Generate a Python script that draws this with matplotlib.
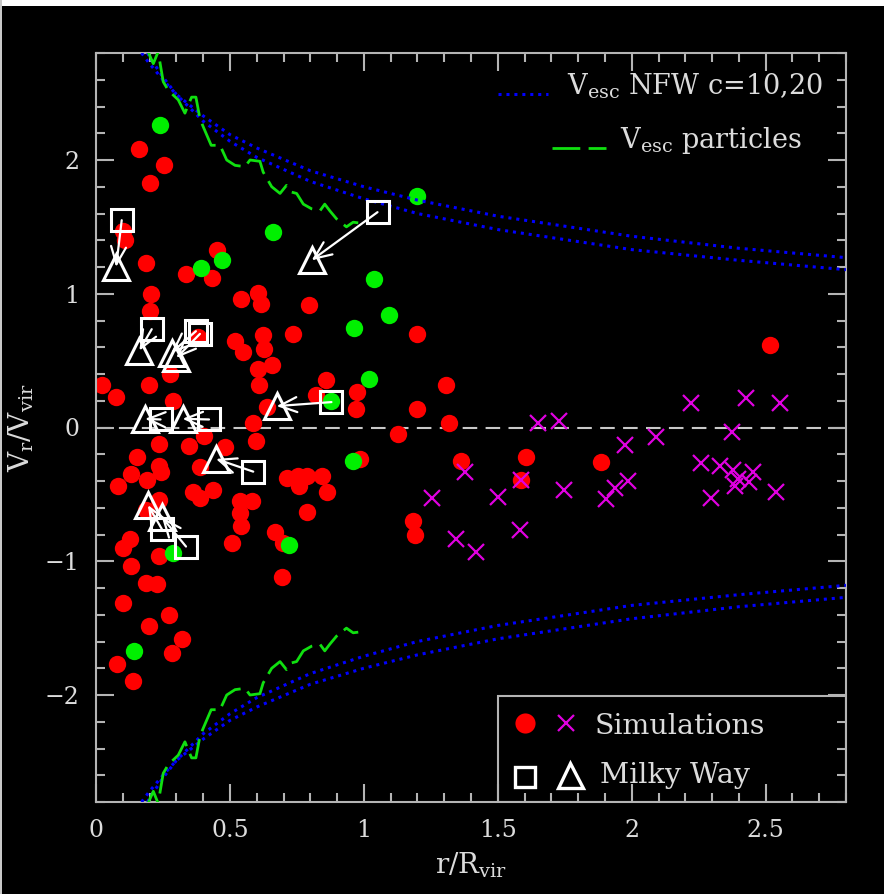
import numpy as np
import matplotlib
matplotlib.use('Agg')
import matplotlib.pyplot as plt
from matplotlib.ticker import MultipleLocator, FixedLocator
from matplotlib.patches import Rectangle

plt.rcParams['font.family'] = ['DejaVu Serif']
plt.rcParams['mathtext.fontset'] = 'dejavuserif'

# simulations: red = subhaloes, green = second sample
red_x = [0.16, 0.20, 0.254, 0.102, 0.108, 0.187, 0.205, 0.201, 0.335, 0.45,
         0.432, 0.542, 0.603, 0.616, 0.796, 1.20, 0.736, 0.624, 0.52, 0.38,
         0.024, 0.075, 0.197, 0.289, 0.276, 0.55, 0.627, 0.656, 0.606, 0.609,
         0.637, 0.858, 0.821, 0.976, 0.97, 1.197, 1.306, 1.317, 0.587, 0.596,
         0.403, 0.347, 0.235, 0.481, 0.154, 0.235, 0.241, 0.129, 0.191, 0.081,
         0.388, 0.363, 0.388, 0.438, 0.236, 0.187, 0.537, 0.581, 0.537, 0.54,
         0.509, 0.668, 0.699, 0.789, 0.712, 0.755, 0.786, 0.759, 0.844, 0.861,
         0.985, 1.128, 1.184, 1.19, 1.364, 1.607, 1.588, 1.884, 2.515, 0.127,
         0.102, 0.236, 0.129, 0.187, 0.229, 0.693, 0.10, 0.272, 0.199, 0.32,
         0.282, 0.077, 0.139]
red_y = [2.08, 1.83, 1.96, 1.47, 1.40, 1.23, 1.00, 0.87, 1.15, 1.33,
         1.115, 0.96, 1.005, 0.92, 0.915, 0.70, 0.70, 0.69, 0.65, 0.68,
         0.315, 0.23, 0.315, 0.20, 0.40, 0.565, 0.59, 0.47, 0.435, 0.315,
         0.155, 0.355, 0.24, 0.265, 0.14, 0.135, 0.315, 0.035, 0.03, -0.10,
         -0.065, -0.14, -0.12, -0.145, -0.22, -0.29, -0.33, -0.35, -0.39, -0.44,
         -0.295, -0.48, -0.53, -0.465, -0.54, -0.62, -0.55, -0.55, -0.64, -0.74,
         -0.865, -0.78, -0.86, -0.63, -0.38, -0.365, -0.36, -0.44, -0.36, -0.48,
         -0.235, -0.045, -0.70, -0.80, -0.25, -0.22, -0.39, -0.26, 0.62, -0.83,
         -0.90, -0.96, -1.035, -1.16, -1.17, -1.12, -1.315, -1.40, -1.485, -1.585,
         -1.685, -1.765, -1.895]

green_x = [0.239, 1.20, 0.659, 0.469, 0.392, 1.036, 1.093, 0.962, 1.02, 0.879,
           0.96, 0.72, 0.286, 0.143]
green_y = [2.26, 1.73, 1.46, 1.255, 1.19, 1.11, 0.84, 0.745, 0.365, 0.20,
           -0.25, -0.88, -0.94, -1.67]

cross_x = [1.65, 1.728, 2.223, 2.428, 2.552, 2.376, 1.975, 2.092, 2.26, 2.331,
           2.378, 2.453, 2.397, 2.438, 2.384, 2.54, 2.295, 1.986, 1.937, 1.905,
           1.747, 1.588, 1.377, 1.253, 1.499, 1.582, 1.343, 1.42]
cross_y = [0.035, 0.05, 0.18, 0.22, 0.18, -0.03, -0.13, -0.07, -0.265, -0.285,
           -0.315, -0.33, -0.385, -0.41, -0.44, -0.48, -0.53, -0.40, -0.45, -0.535,
           -0.47, -0.39, -0.33, -0.53, -0.52, -0.77, -0.83, -0.93]

# Milky Way satellites: square -> triangle
mw_sq_x = [0.096, 1.051, 0.208, 0.373, 0.388, 0.879, 0.422, 0.241, 0.587, 0.246, 0.336]
mw_sq_y = [1.55, 1.61, 0.735, 0.72, 0.70, 0.19, 0.06, 0.06, -0.33, -0.76, -0.89]
mw_tri_x = [0.075, 0.805, 0.162, 0.282, 0.30, 0.674, 0.323, 0.183, 0.448, 0.194, 0.246]
mw_tri_y = [1.20, 1.25, 0.575, 0.56, 0.52, 0.16, 0.065, 0.065, -0.235, -0.58, -0.67]

# escape velocity curves (upper branch, mirrored below)
nfw_x = [0.17, 0.2, 0.25, 0.3, 0.4, 0.5, 0.6, 0.8, 1.0, 1.2, 1.5, 2.0, 2.4, 2.8]
nfw10_y = [2.80, 2.72, 2.60, 2.49, 2.33, 2.19, 2.09, 1.92, 1.80, 1.70, 1.58, 1.43, 1.34, 1.27]
nfw20_x = [0.192, 0.2, 0.25, 0.3, 0.4, 0.5, 0.6, 0.8, 1.0, 1.2, 1.5, 2.0, 2.4, 2.8]
nfw20_y = [2.80, 2.77, 2.62, 2.49, 2.29, 2.14, 2.02, 1.84, 1.71, 1.60, 1.48, 1.33, 1.25, 1.18]

part_x = [0.194, 0.214, 0.232, 0.251, 0.27, 0.307, 0.332, 0.344, 0.357, 0.373,
          0.388, 0.40, 0.43, 0.463, 0.488, 0.519, 0.556, 0.575, 0.612, 0.624,
          0.656, 0.687, 0.711, 0.73, 0.749, 0.774, 0.805, 0.836, 0.854, 0.873,
          0.898, 0.935, 0.96, 0.979]
part_y = [2.81, 2.72, 2.81, 2.585, 2.52, 2.45, 2.35, 2.41, 2.47, 2.47,
          2.31, 2.25, 2.11, 2.11, 2.0, 1.96, 1.95, 2.0, 1.99, 1.91,
          1.80, 1.75, 1.81, 1.76, 1.75, 1.67, 1.635, 1.62, 1.67, 1.62,
          1.56, 1.50, 1.535, 1.53]

xtick_vals = [0, 0.5, 1, 1.5, 2, 2.5]
xtick_labels = ['0', '0.5', '1', '1.5', '2', '2.5']
ytick_vals = [-2, -1, 0, 1, 2]
ytick_labels = ['\u22122', '\u22121', '0', '1', '2']

fg = '#dcdcdc'
frame = '#b4b4b4'
dot = (0, (1, 1.6))

fig = plt.figure(figsize=(8.84, 8.94), dpi=100, facecolor='black')
ax = fig.add_axes([96/884, 1-802/894, 750/884, 749/894])
ax.set_facecolor('black')

# screenshot border
fig.patches.append(Rectangle((0, 1-6/894), 1, 6/894, transform=fig.transFigure,
                             facecolor='white', edgecolor='none'))
fig.patches.append(Rectangle((0, 0), 2/884, 1, transform=fig.transFigure,
                             facecolor='#c8c8c8', edgecolor='none'))

ax.axhline(0, color='#c8c8c8', lw=1.5, dashes=(7, 4), zorder=1)

ax.plot(red_x, red_y, 'o', color='#ff0000', ms=12.5, mec='none', zorder=2)
ax.plot(green_x, green_y, 'o', color='#00f000', ms=12.5, mec='none', zorder=2)
ax.plot(cross_x, cross_y, 'x', color='#e000e0', ms=12, mew=1.6, zorder=2)

for sgn in (1, -1):
    ax.plot(nfw_x, sgn*np.array(nfw10_y), color='#0000ff', lw=2.2,
            linestyle=dot, zorder=3)
    ax.plot(nfw20_x, sgn*np.array(nfw20_y), color='#0000ff', lw=2.2,
            linestyle=dot, zorder=3)
    ax.plot(part_x, sgn*np.array(part_y), color='#10e010', lw=2,
            dashes=(10, 3), zorder=3)

for sx, sy, tx, ty in zip(mw_sq_x, mw_sq_y, mw_tri_x, mw_tri_y):
    ax.annotate('', xy=(tx, ty), xytext=(sx, sy),
                arrowprops=dict(arrowstyle='->,head_length=0.7,head_width=0.3',
                                color='white', lw=1.6, shrinkA=0, shrinkB=0,
                                mutation_scale=18), zorder=5)
ax.plot(mw_sq_x, mw_sq_y, 's', ms=16.5, mfc='none', mec='white', mew=2.2, zorder=4)
ax.plot(mw_tri_x, mw_tri_y, '^', ms=19, mfc='none', mec='white', mew=2.2, zorder=4)

ax.set_xlim(0, 2.8)
ax.set_ylim(-2.8, 2.8)
ax.xaxis.set_major_locator(FixedLocator(xtick_vals))
ax.set_xticklabels(xtick_labels)
ax.yaxis.set_major_locator(FixedLocator(ytick_vals))
ax.set_yticklabels(ytick_labels)
ax.xaxis.set_minor_locator(MultipleLocator(0.1))
ax.yaxis.set_minor_locator(MultipleLocator(0.2))
ax.tick_params(which='both', direction='in', top=True, right=True,
               color=frame, width=1.5, labelcolor=fg, labelsize=17)
ax.tick_params(which='major', length=13, pad=12)
ax.tick_params(which='minor', length=6.5)
for sp in ax.spines.values():
    sp.set_color(frame)
    sp.set_linewidth(1.5)

ax.set_xlabel('r/R$_{\\rm vir}$', color=fg, fontsize=20, labelpad=6)
ax.set_ylabel('V$_{\\rm r}$/V$_{\\rm vir}$', color=fg, fontsize=20, labelpad=6)

# top-right key
T = ax.transAxes
ax.plot([0.536, 0.603], [0.945, 0.945], transform=T, color='#0000ff', lw=2.2,
        linestyle=dot, clip_on=False)
ax.text(0.628, 0.944, 'V$_{\\rm esc}$ NFW c=10,20', transform=T, color=fg,
        fontsize=19.5, va='baseline', ha='left')
ax.plot([0.608, 0.68], [0.873, 0.873], transform=T, color='#10e010', lw=2,
        dashes=(10, 3), clip_on=False)
ax.text(0.699, 0.873, 'V$_{\\rm esc}$ particles', transform=T, color=fg,
        fontsize=19.5, va='baseline', ha='left')

# bottom-right key
ax.add_patch(Rectangle((0.536, 0), 0.464, 0.1415, transform=T, facecolor='none',
                       edgecolor=frame, lw=1.5, zorder=6))
ax.plot([0.572], [0.1055], 'o', transform=T, color='#ff0000', ms=14.5, mec='none', zorder=6)
ax.plot([0.627], [0.1055], 'x', transform=T, color='#e000e0', ms=12, mew=1.6, zorder=6)
ax.text(0.665, 0.0908, 'Simulations', transform=T, color=fg, fontsize=20.5,
        va='baseline', ha='left', zorder=6)
ax.plot([0.572], [0.0334], 's', transform=T, ms=14, mfc='none', mec='white', mew=2.4, zorder=6)
ax.plot([0.632], [0.036], '^', transform=T, ms=18, mfc='none', mec='white', mew=2.4, zorder=6)
ax.text(0.672, 0.0254, 'Milky Way', transform=T, color=fg, fontsize=20.5,
        va='baseline', ha='left', zorder=6)

fig.savefig('out.png', dpi=100, facecolor='black')
